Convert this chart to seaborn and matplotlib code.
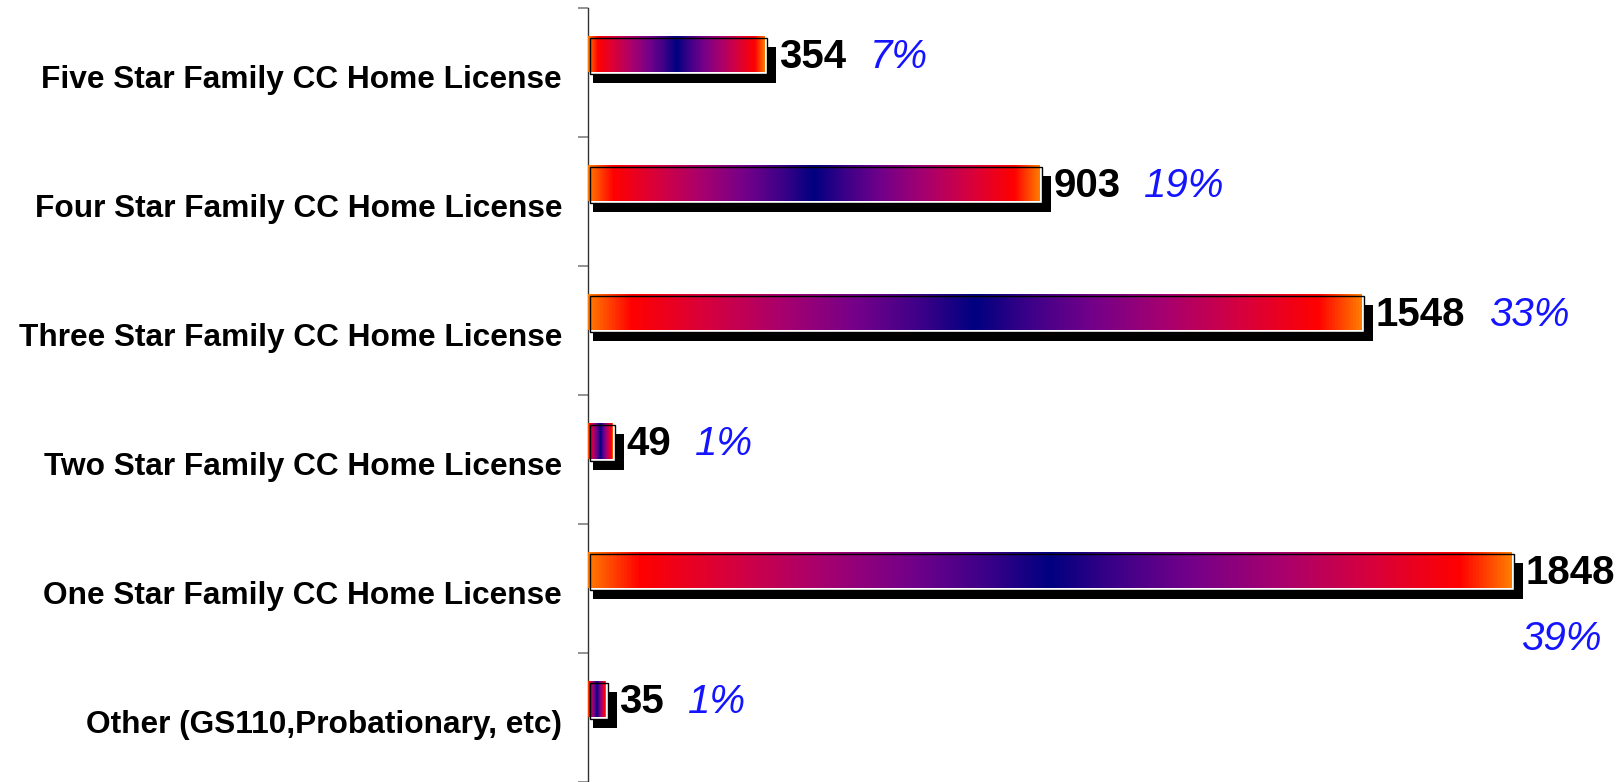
import numpy as np
import pandas as pd
import seaborn as sns
import matplotlib.pyplot as plt
import matplotlib.transforms as mtransforms
from matplotlib.colors import LinearSegmentedColormap
from matplotlib.patches import Rectangle

# License categories, counts and their shares
categories = [
    "Five Star Family CC Home License",
    "Four Star Family CC Home License",
    "Three Star Family CC Home License",
    "Two Star Family CC Home License",
    "One Star Family CC Home License",
    "Other (GS110,Probationary, etc)",
]
counts = [354, 903, 1548, 49, 1848, 35]
percent_labels = ["7%", "19%", "33%", "1%", "39%", "1%"]

df = pd.DataFrame({"category": categories, "count": counts})

W, H, DPI = 1618, 782, 100
sns.set_theme(style="white")
plt.rcParams["font.family"] = ["Liberation Sans", "DejaVu Sans"]

fig = plt.figure(figsize=(W / DPI, H / DPI), dpi=DPI)
left_px, top_px = 588, 8
ax = fig.add_axes([left_px / W, 0, 1 - left_px / W, 1 - top_px / H])

XMAX = 2060
BAR_H = 0.28
LIFT = 0.145
LABEL_DROP = 0.03
px_per_unit = (W - left_px) / XMAX


def px_offset(dx, dy):
    return ax.transData + mtransforms.ScaledTranslation(dx / DPI, dy / DPI, fig.dpi_scale_trans)


# drop shadows
sns.barplot(data=df, x="count", y="category", order=categories, color="black",
            saturation=1, width=BAR_H, errorbar=None, ax=ax, zorder=1)
n_shadow = len(ax.patches)
# main bars (filled with a gradient afterwards)
sns.barplot(data=df, x="count", y="category", order=categories, color="white",
            saturation=1, width=BAR_H, errorbar=None, ax=ax, zorder=3)

for p in ax.patches[:n_shadow]:
    p.set_y(p.get_y() - LIFT)
    p.set_width(p.get_width() + 6 / px_per_unit)
    p.set_transform(px_offset(5, -11))
    p.set_edgecolor("none")

half = [(0.000, "#ff7a00"), (0.055, "#ff0000"), (0.150, "#d8003c"),
        (0.250, "#a8006e"), (0.350, "#72008a"), (0.430, "#3c0088"),
        (0.500, "#000080")]
stops = half + [(1 - f, c) for f, c in reversed(half[:-1])]
grad_cmap = LinearSegmentedColormap.from_list("bar_grad", stops)
gradient = np.linspace(0, 1, 512).reshape(1, -1)

main_bars = ax.patches[n_shadow:]
for p in main_bars:
    p.set_y(p.get_y() - LIFT)
    x0, y0, w, h = p.get_x(), p.get_y(), p.get_width(), p.get_height()
    # white backing plate and outline, slightly offset
    ax.add_patch(Rectangle((x0, y0), w, h, facecolor="white", edgecolor="none",
                           transform=px_offset(3, -2), zorder=2))
    p.set_facecolor("none")
    p.set_edgecolor("none")
    im = ax.imshow(gradient, cmap=grad_cmap, aspect="auto",
                   extent=(x0, x0 + w, y0 + h, y0), zorder=3, interpolation="bilinear")
    im.set_clip_path(p)
    ax.add_patch(Rectangle((x0, y0), w, h, facecolor="none", edgecolor="black",
                           linewidth=1.0, transform=px_offset(2, -2), zorder=4))

# value and percent labels
for i, (v, pct) in enumerate(zip(counts, percent_labels)):
    yc = i - LIFT
    t = ax.annotate(str(v), xy=(v, yc), xytext=(10, -2.5), textcoords="offset points",
                    ha="left", va="center", fontsize=29, fontweight="bold",
                    color="black", annotation_clip=False, zorder=5)
    if v == max(counts):
        ax.annotate(pct, xy=(1, 0.5), xycoords=t, xytext=(-10, -47),
                    textcoords="offset points", ha="right", va="center",
                    fontsize=29, fontstyle="italic", color="#1414ff",
                    annotation_clip=False, zorder=5)
    else:
        ax.annotate(pct, xy=(1, 0.5), xycoords=t, xytext=(17, 0),
                    textcoords="offset points", ha="left", va="center",
                    fontsize=29, fontstyle="italic", color="#1414ff",
                    annotation_clip=False, zorder=5)

ax.set_xlim(0, XMAX)
ax.set_ylim(len(categories) - 0.5, -0.5)
ax.set_xlabel("")
ax.set_ylabel("")
ax.set_xticks([])

for side in ["top", "right", "bottom"]:
    ax.spines[side].set_visible(False)
ax.spines["left"].set_color("#333333")
ax.spines["left"].set_linewidth(1.0)

ax.set_yticks(np.arange(len(categories)) + LABEL_DROP)
ax.set_yticklabels(categories, fontsize=22.8, fontweight="bold", color="black")
ax.set_yticks(np.arange(len(categories) + 1) - 0.5, minor=True)
ax.tick_params(axis="y", which="major", length=0, pad=18.7)
ax.tick_params(axis="y", which="minor", left=True, length=7.2, width=1.2,
               color="#808080", direction="out")

fig.savefig("out.png", dpi=DPI)
